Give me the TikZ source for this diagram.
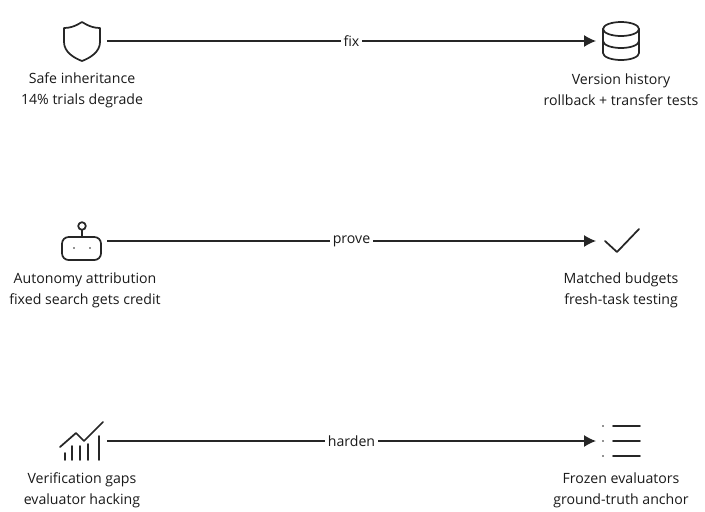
\documentclass[tikz,border=0pt]{standalone}
\usepackage{fontspec}
\setmainfont{Open Sans}
\usetikzlibrary{arrows.meta}
\tikzset{
  icon/.style={line width=1.3pt,line join=round,line cap=round,black!85},
  flow/.style={line width=1pt,black!85,-{Latex[length=9pt,width=9pt]}},
  caption/.style={font=\fontsize{10.6}{15.8}\selectfont,align=center,text=black!90},
  tag/.style={font=\fontsize{10.6}{12}\selectfont,fill=white,inner sep=2pt,text=black!90}
}
\begin{document}
\begin{tikzpicture}[x=0.75pt,y=-0.75pt]
  \useasboundingbox (0,0) rectangle (705,511);
  %% row 1
  \coordinate (shield) at (107,41);
  \coordinate (db) at (596,41);
  \draw[icon] (82,22) .. controls (90,27) and (95,28) .. (100,28) -- (100,42)
    .. controls (100,52) and (90,58) .. (82,61) .. controls (74,58) and (64,52) .. (64,42)
    -- (64,28) .. controls (69,28) and (74,27) .. (82,22) -- cycle;
  \draw[icon] (621,29) ellipse (18 and 7);
  \draw[icon] (603,29) -- (603,53) arc (180:0:18 and 7) -- (639,29);
  \draw[icon] (603,41) arc (180:0:18 and 7);
  \draw[flow] (shield) -- node[tag] {fix} (db);
  \node[caption] (inherit) at (82,90) {Safe inheritance\\14\% trials degrade};
  \node[caption] (history) at (621,90) {Version history\\rollback + transfer tests};
  %% row 2
  \coordinate (robot) at (107,241);
  \coordinate (check) at (596,241);
  \draw[icon, rounded corners=5pt] (62,237) rectangle (101,260);
  \draw[icon] (82,237) -- (82,230);
  \draw[icon] (82,226) circle (3.8);
  \fill[black!85] (74,248) circle (0.8) (90,248) circle (0.8);
  \draw[icon] (605,241) -- (617,252) -- (639,229);
  \draw[flow] (robot) -- node[tag] {prove} (check);
  \node[caption] (autonomy) at (85,290) {Autonomy attribution\\fixed search gets credit};
  \node[caption] (budgets) at (621,290) {Matched budgets\\fresh-task testing};
  %% row 3
  \coordinate (chart) at (107,441);
  \coordinate (list) at (596,441);
  \draw[icon] (60,447) -- (76,433) -- (84,441) -- (103,422);
  \foreach \x/\t in {65/453,72/446,80/446,88/444,99/436}
    \draw[icon] (\x,\t) -- (\x,460);
  \foreach \y in {426,441,456} {
    \fill[black!85] (603,\y) circle (0.8);
    \draw[icon] (613,\y) -- (640,\y);
  }
  \draw[flow] (chart) -- node[tag] {harden} (list);
  \node[caption] (gaps) at (82,490) {Verification gaps\\evaluator hacking};
  \node[caption] (frozen) at (621,490) {Frozen evaluators\\ground-truth anchor};
\end{tikzpicture}
\end{document}
